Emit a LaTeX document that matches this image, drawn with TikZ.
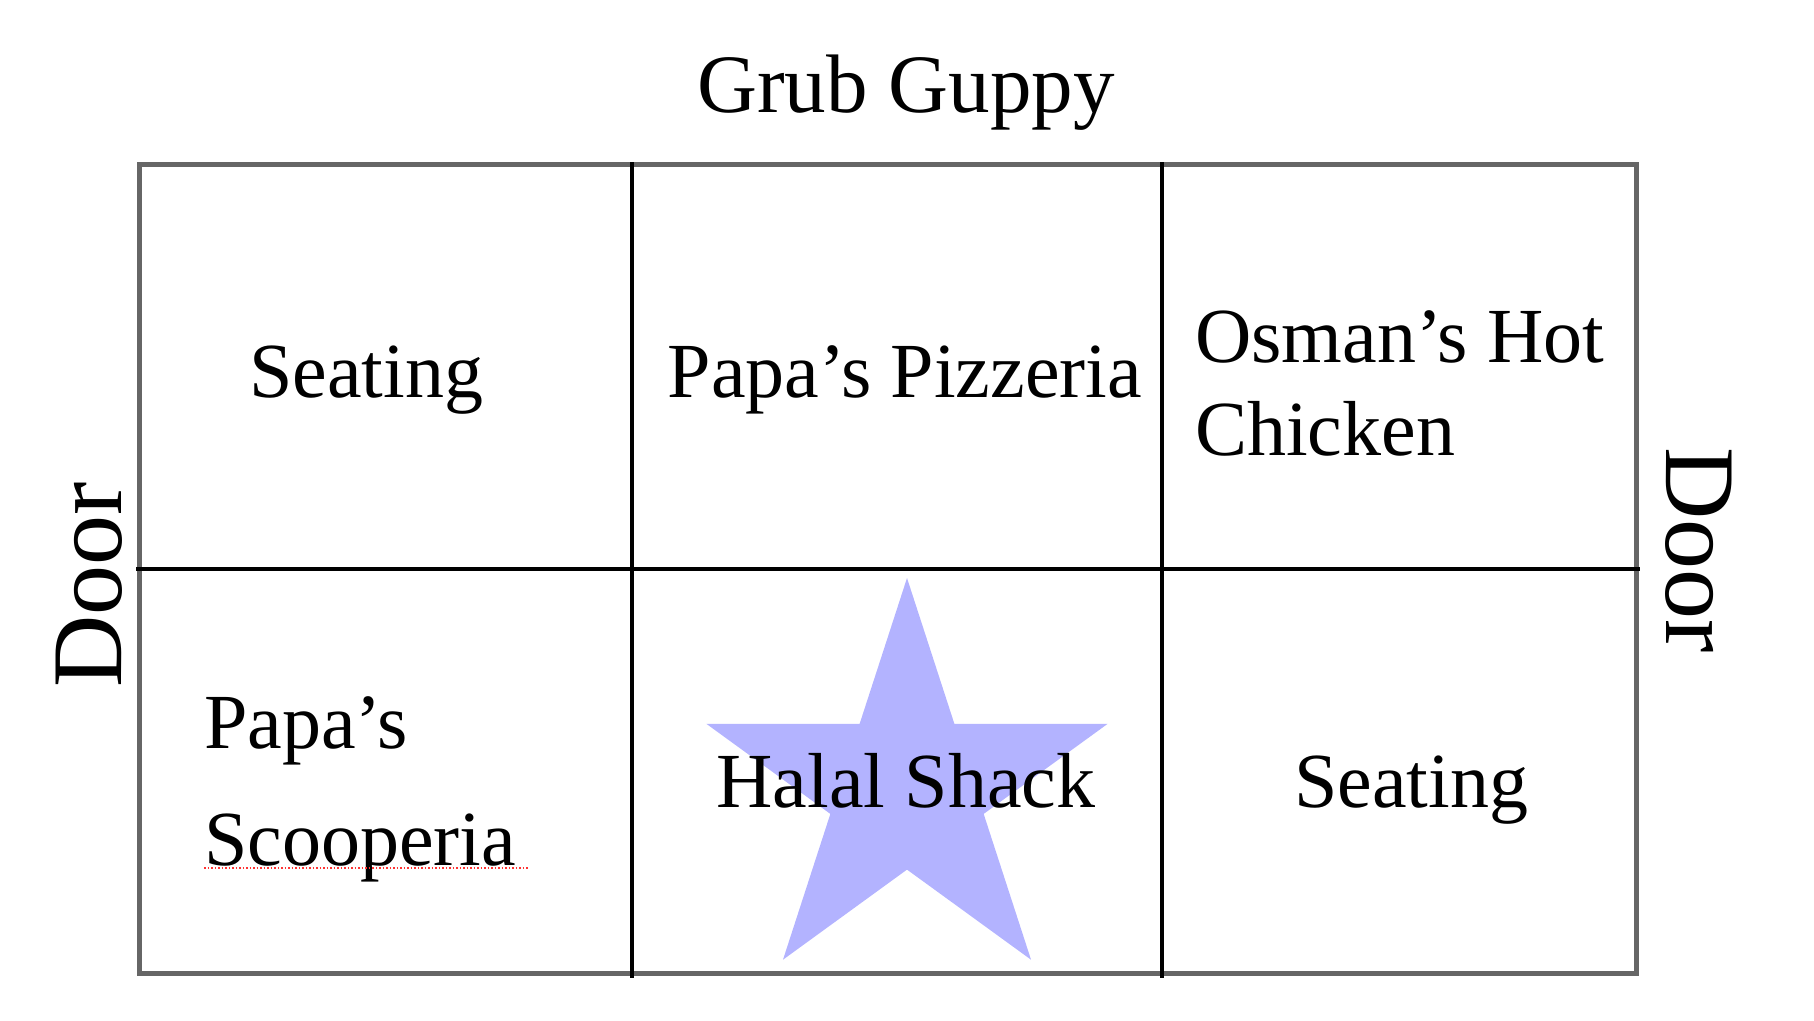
\documentclass[tikz,border=0pt]{standalone}
\usepackage{fontspec}
\setmainfont{Liberation Serif}
\definecolor{framegray}{HTML}{666666}
\definecolor{starblue}{HTML}{B3B3FF}
\tikzset{
  lbl/.style={inner sep=0pt, font=\fontsize{78}{94}\selectfont},
  doorlbl/.style={inner sep=0pt, font=\fontsize{100}{120}\selectfont},
  divider/.style={line width=3.5pt, black},
  frame/.style={line width=5pt, framegray},
}
\begin{document}
\begin{tikzpicture}[x=1pt,y=-1pt]
\useasboundingbox (0,0) rectangle (1814,1020);
% star (angles negated because y points down)
\fill[starblue] (907,789) +(-90:211) -- +(-126:80.6) -- +(-162:211) -- +(-198:80.6) -- +(-234:211) -- +(-270:80.6) -- +(-306:211) -- +(-342:80.6) -- +(-18:211) -- +(-54:80.6) -- cycle;
% frame
\draw[frame] (139,164) rectangle (1636,973);
% dividers
\coordinate (v1t) at (632,162); \coordinate (v1b) at (632,978);
\coordinate (v2t) at (1162,162); \coordinate (v2b) at (1162,978);
\coordinate (hl) at (136,569); \coordinate (hr) at (1640,569);
\draw[divider] (v1t) -- (v1b);
\draw[divider] (v2t) -- (v2b);
\draw[divider] (hl) -- (hr);
% labels
\node[lbl, anchor=base, font=\fontsize{83}{96}\selectfont] (grub) at (906,112) {Grub Guppy};
\node[lbl, anchor=base] (seat1) at (366,397) {Seating};
\node[lbl, anchor=base] (pizza) at (905,397) {Papa’s Pizzeria};
\node[lbl, anchor=base west] (osman1) at (1195,362) {Osman’s Hot};
\node[lbl, anchor=base west] (osman2) at (1195,455) {Chicken};
\node[lbl, anchor=base west] (scoop1) at (204,748) {Papa’s};
\node[lbl, anchor=base west] (scoop2) at (204,865) {Scooperia};
\node[lbl, anchor=base] (halal) at (906,807) {Halal Shack};
\node[lbl, anchor=base] (seat2) at (1411,807) {Seating};
\node[doorlbl, anchor=base, rotate=90] (doorL) at (121,585) {Door};
\node[doorlbl, anchor=base, rotate=-90] (doorR) at (1666,550) {Door};
% spell-check underline
\coordinate (ul1) at (204,868); \coordinate (ul2) at (529,868);
\draw[red!80, dotted, line width=1.5pt] (ul1) -- (ul2);
\end{tikzpicture}
\end{document}
